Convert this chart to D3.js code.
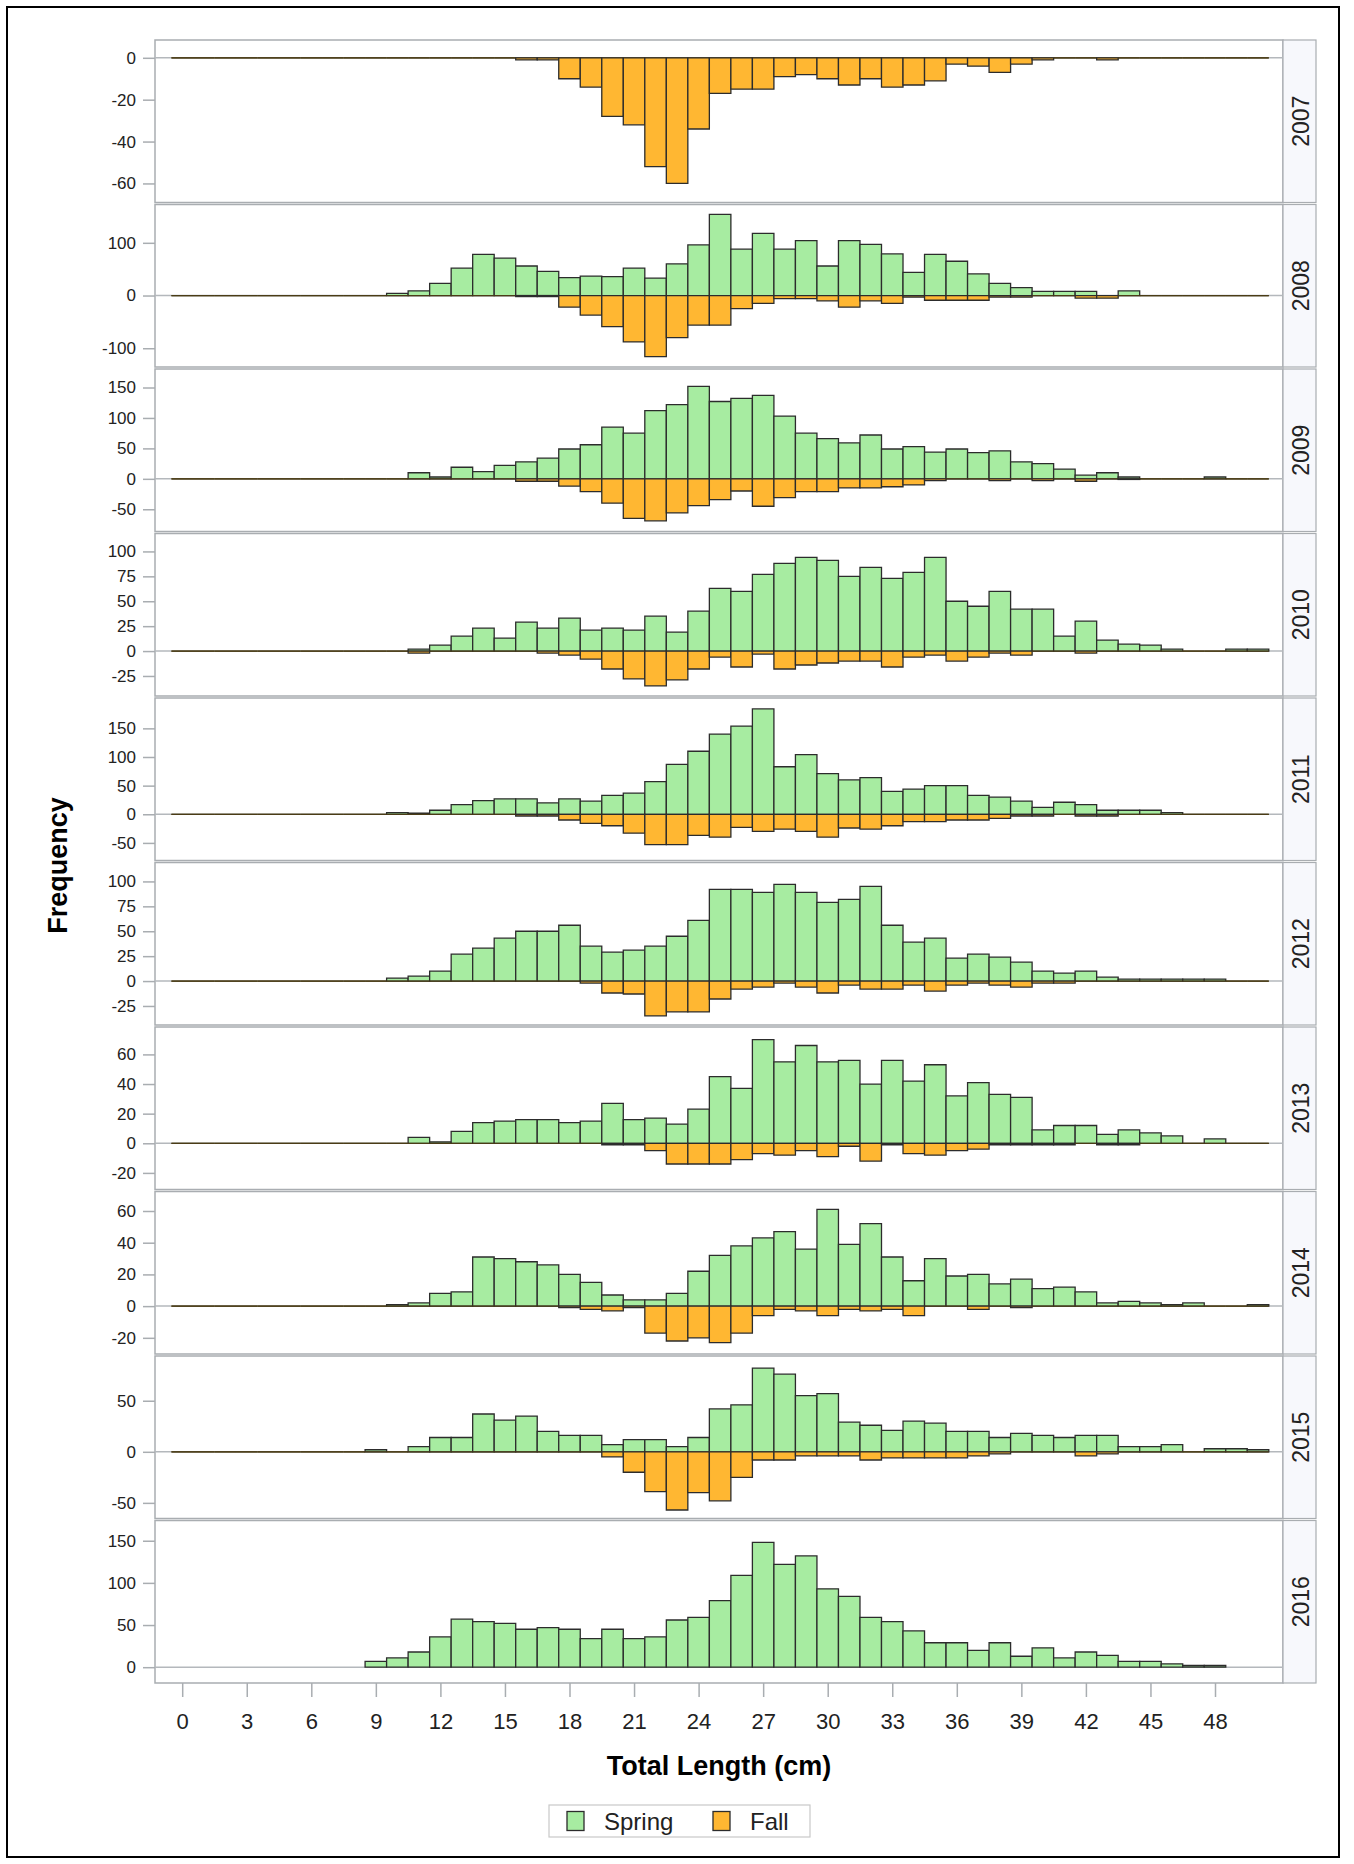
<!DOCTYPE html>
<html><head><meta charset="utf-8">
<script src="https://cdn.jsdelivr.net/npm/d3@7"></script>
<style>
html,body{margin:0;padding:0;background:#fff;}
svg{display:block;}
text{font-family:"Liberation Sans", Arial, sans-serif;}
</style></head><body>
<svg id="chart" width="1354" height="1864"></svg>
<script>
// ---------------- DATA ----------------
const bins = [0,1,2,3,4,5,6,7,8,9,10,11,12,13,14,15,16,17,18,19,20,21,22,23,24,25,26,27,28,29,30,31,32,33,34,35,36,37,38,39,40,41,42,43,44,45,46,47,48,49,50];
const years = ["2007","2008","2009","2010","2011","2012","2013","2014","2015","2016"];
const xTicks = [0,3,6,9,12,15,18,21,24,27,30,33,36,39,42,45,48];

const spring2007 = [0,0,0,0,0,0,0,0,0,0, 0,0,0,0,0,0,0,0,0,0, 0,0,0,0,0,0,0,0,0,0, 0,0,0,0,0,0,0,0,0,0, 0,0,0,0,0,0,0,0,0,0, 0];
const fall2007   = [0,0,0,0,0,0,0,0,0,0, 0,0,0,0,0,0,-1,-1,-10,-14, -28,-32,-52,-60,-34,-17,-15,-15,-9,-8, -10,-13,-10,-14,-13,-11,-3,-4,-7,-3, -1,0,0,-1,0,0,0,0,0,0, 0];
const spring2008 = [0,0,0,0,0,0,0,0,0,0, 4,9,23,52,78,71,56,46,34,37, 36,52,33,60,96,154,88,118,88,104, 56,104,97,79,44,78,65,41,23,15, 8,8,8,0,9,0,0,0,0,0, 0];
const fall2008   = [0,0,0,0,0,0,0,0,0,0, 0,0,0,0,0,0,-2,-2,-22,-37, -59,-88,-116,-80,-56,-56,-25,-15,-6,-6, -10,-22,-10,-15,-3,-9,-9,-9,-3,-3, 0,0,-5,-5,0,0,0,0,0,0, 0];
const spring2009 = [0,0,0,0,0,0,0,0,0,0, 0,10,3,19,12,22,28,34,49,56, 85,75,112,122,152,127,132,137,103,75, 66,59,72,49,53,44,49,43,46,28, 25,16,6,10,3,0,0,0,3,0, 0];
const fall2009   = [0,0,0,0,0,0,0,0,0,0, 0,0,0,0,0,0,-4,-4,-12,-21, -40,-65,-69,-56,-44,-34,-20,-45,-31,-21, -21,-15,-15,-13,-10,-3,0,0,-3,0, -3,0,-4,0,-1,0,0,0,0,0, 0];
const spring2010 = [0,0,0,0,0,0,0,0,0,0, 0,2,6,15,23,13,29,23,33,21, 23,21,35,19,40,63,60,77,88,94, 91,75,84,73,79,94,50,45,60,42, 42,15,30,11,7,6,2,0,0,2, 2];
const fall2010   = [0,0,0,0,0,0,0,0,0,0, 0,-2,0,0,0,0,0,-2,-4,-8, -18,-28,-35,-29,-18,-6,-16,-3,-18,-14, -12,-10,-10,-16,-6,-4,-10,-6,-2,-4, 0,0,-2,0,0,0,0,0,0,0, 0];
const spring2011 = [0,0,0,0,0,0,0,0,0,0, 3,2,7,17,24,27,27,20,27,23, 33,37,57,87,110,140,154,184,83,104, 71,60,64,40,44,50,50,33,30,23, 12,21,17,7,7,7,3,0,0,0, 0];
const fall2011   = [0,0,0,0,0,0,0,0,0,0, 0,0,0,0,0,0,-3,-3,-10,-16, -20,-33,-53,-53,-37,-40,-23,-30,-26,-30, -40,-24,-26,-20,-13,-13,-10,-10,-7,-3, -3,0,-3,-3,0,0,0,0,0,0, 0];
const spring2012 = [0,0,0,0,0,0,0,0,0,0, 3,5,10,27,33,43,50,50,56,35, 29,31,35,45,61,92,92,89,97,89, 79,82,95,56,39,43,23,27,24,19, 10,8,10,4,2,2,2,2,2,0, 0];
const fall2012   = [0,0,0,0,0,0,0,0,0,0, 0,0,0,0,0,0,0,0,0,-2, -12,-13,-35,-31,-31,-18,-8,-6,-2,-6, -12,-4,-8,-8,-4,-10,-4,-2,-4,-6, -2,-2,0,0,0,0,0,0,0,0, 0];
const spring2013 = [0,0,0,0,0,0,0,0,0,0, 0,4,1,8,14,15,16,16,14,15, 27,16,17,13,23,45,37,70,55,66, 55,56,40,56,42,53,32,41,33,31, 9,12,12,6,9,7,5,0,3,0, 0];
const fall2013   = [0,0,0,0,0,0,0,0,0,0, 0,0,0,0,0,0,0,0,0,0, -1,-1,-5,-14,-14,-14,-11,-7,-8,-5, -9,-2,-12,-1,-7,-8,-5,-4,-1,-1, -1,-1,0,-1,-1,0,0,0,0,0, 0];
const spring2014 = [0,0,0,0,0,0,0,0,0,0, 1,2,8,9,31,30,28,26,20,15, 7,4,4,8,22,32,38,43,47,36, 61,39,52,31,16,30,19,20,14,17, 11,12,9,2,3,2,1,2,0,0, 1];
const fall2014   = [0,0,0,0,0,0,0,0,0,0, 0,0,0,0,0,0,0,0,-1,-2, -3,-1,-17,-22,-20,-23,-17,-6,-2,-3, -6,-2,-3,-2,-6,0,0,-2,0,-1, 0,0,0,0,0,0,0,0,0,0, 0];
const spring2015 = [0,0,0,0,0,0,0,0,0,2, 0,5,14,14,37,31,35,20,16,16, 7,12,12,5,14,42,46,82,76,55, 57,29,26,21,30,28,20,20,14,18, 16,14,16,16,5,5,7,0,3,3, 2];
const fall2015   = [0,0,0,0,0,0,0,0,0,0, 0,0,0,0,0,0,0,0,0,0, -5,-20,-39,-57,-40,-48,-25,-8,-8,-4, -4,-4,-8,-6,-6,-6,-6,-4,-2,0, 0,0,-4,-2,0,0,0,0,0,0, 0];
const spring2016 = [null,null,null,null,null,null,null,null,null,7, 11,18,36,57,54,52,45,47,45,34, 45,34,36,56,59,79,109,148,122,132, 93,84,59,54,43,29,29,20,29,13, 23,11,18,14,7,7,4,2,2,null, null];
const fall2016   = [null,null,null,null,null,null,null,null,null,null, null,null,null,null,null,null,null,null,null,null, null,null,null,null,null,null,null,null,null,null, null,null,null,null,null,null,null,null,null,null, null,null,null,null,null,null,null,null,null,null, null];

const springSeries = [spring2007,spring2008,spring2009,spring2010,spring2011,spring2012,spring2013,spring2014,spring2015,spring2016];
const fallSeries   = [fall2007,fall2008,fall2009,fall2010,fall2011,fall2012,fall2013,fall2014,fall2015,fall2016];

// y-axis tick values per panel
const yTicks = [
  [0,-20,-40,-60],
  [100,0,-100],
  [150,100,50,0,-50],
  [100,75,50,25,0,-25],
  [150,100,50,0,-50],
  [100,75,50,25,0,-25],
  [60,40,20,0,-20],
  [60,40,20,0,-20],
  [50,0,-50],
  [150,100,50,0]
];
// y-axis extents per panel
const yDomains = [
  [-69.1, 8.5],
  [-135.6, 172.7],
  [-86.5, 180.4],
  [-45.1, 118],
  [-80.7, 203],
  [-44.1, 119],
  [-31.2, 78.5],
  [-30.2, 72.3],
  [-65.3, 93.8],
  [-18.75, 174]
];

// ---------------- LAYOUT ----------------
const svg = d3.select("#chart");
const plotL = 155, plotR = 1283, stripR = 1316;
const top0 = 39, panelH = 164.5;
const gridColor = "#a9adb1";
const springColor = "#a7eca1", fallColor = "#ffb732", outline = "#2c2c2c";

svg.append("rect").attr("x",0).attr("y",0).attr("width",1354).attr("height",1864).attr("fill","#fff");
svg.append("rect").attr("x",7).attr("y",7).attr("width",1332).attr("height",1850)
   .attr("fill","none").attr("stroke","#000").attr("stroke-width",2);

const x = d3.scaleLinear().domain([-1.264, 51.16]).range([plotL, plotR]);
const fmt = d => String(d);

function barPath(b, v, y) {
  const x0 = x(b - 0.5), x1 = x(b + 0.5), y0 = y(0), y1 = y(v);
  return `M${x0},${y0}H${x1}V${y1}H${x0}Z`;
}

years.forEach((yr, i) => {
  const top = top0 + i * panelH, bottom = top + panelH;
  const y = d3.scaleLinear().domain(yDomains[i]).range([bottom - 1, top + 1]);
  const g = svg.append("g");

  // frame
  g.append("rect").attr("x", plotL).attr("y", top + 1).attr("width", plotR - plotL).attr("height", panelH - 2)
    .attr("fill", "#fff").attr("stroke", gridColor).attr("stroke-width", 1.5);
  // strip
  g.append("rect").attr("x", plotR).attr("y", top + 1).attr("width", stripR - plotR).attr("height", panelH - 2)
    .attr("fill", "#f7f8fc").attr("stroke", gridColor).attr("stroke-width", 1.2);
  g.append("text").attr("transform", `translate(${(plotR + stripR) / 2 + 1},${top + panelH / 2}) rotate(-90)`)
    .attr("text-anchor", "middle").attr("dominant-baseline", "central")
    .attr("font-size", 23).attr("fill", "#222").text(yr);

  // zero reference line
  g.append("line").attr("x1", plotL).attr("x2", plotR).attr("y1", y(0)).attr("y2", y(0))
    .attr("stroke", "#b4b8bc").attr("stroke-width", 1.5);

  // y axis
  const ax = g.append("g").attr("transform", `translate(${plotL},0)`)
    .call(d3.axisLeft(y).tickValues(yTicks[i]).tickSize(12).tickPadding(7).tickFormat(fmt));
  ax.select(".domain").remove();
  ax.selectAll(".tick line").attr("stroke", gridColor).attr("stroke-width", 1.5);
  ax.selectAll(".tick text").attr("font-size", 17).attr("fill", "#222")
    .attr("font-family", '"Liberation Sans", Arial, sans-serif');

  // bars
  [[springSeries[i], springColor], [fallSeries[i], fallColor]].forEach(([vals, col]) => {
    const pts = bins.map((b, k) => ({ b, v: vals[k] })).filter(d => d.v !== null);
    g.append("g").selectAll("path").data(pts).join("path")
      .attr("d", d => barPath(d.b, d.v, y))
      .attr("fill", col)
      .attr("stroke", d => d.v === 0 ? "#4a3c16" : outline)
      .attr("stroke-width", 1.3)
      .attr("stroke-linejoin", "miter");
  });
});

// x axis
const axisY = top0 + years.length * panelH - 1;
const xa = svg.append("g").attr("transform", `translate(0,${axisY})`)
  .call(d3.axisBottom(x).tickValues(xTicks).tickSize(14).tickPadding(16).tickFormat(fmt));
xa.select(".domain").remove();
xa.selectAll(".tick line").attr("stroke", gridColor).attr("stroke-width", 1.5);
xa.selectAll(".tick text").attr("font-size", 22).attr("fill", "#222")
  .attr("font-family", '"Liberation Sans", Arial, sans-serif');

// axis titles
svg.append("text").attr("x", (plotL + plotR) / 2).attr("y", 1775).attr("text-anchor", "middle")
  .attr("font-size", 27).attr("font-weight", "bold").attr("fill", "#000").text("Total Length (cm)");
svg.append("text").attr("transform", `translate(67,${(top0 + top0 + 10 * panelH) / 2 + 4}) rotate(-90)`)
  .attr("text-anchor", "middle").attr("font-size", 27).attr("font-weight", "bold").attr("fill", "#000").text("Frequency");

// legend
const lg = svg.append("g");
lg.append("rect").attr("x", 549).attr("y", 1805).attr("width", 261).attr("height", 32)
  .attr("fill", "#fff").attr("stroke", "#c9c9c9").attr("stroke-width", 1.2);
const legendItems = [{ name: "Spring", color: springColor, x: 567 }, { name: "Fall", color: fallColor, x: 713 }];
legendItems.forEach(it => {
  lg.append("rect").attr("x", it.x).attr("y", 1811.5).attr("width", 17).attr("height", 19)
    .attr("fill", it.color).attr("stroke", outline).attr("stroke-width", 1.3);
  lg.append("text").attr("x", it.x + 37).attr("y", 1829.5).attr("font-size", 24).attr("fill", "#222").text(it.name);
});
</script>
</body></html>
